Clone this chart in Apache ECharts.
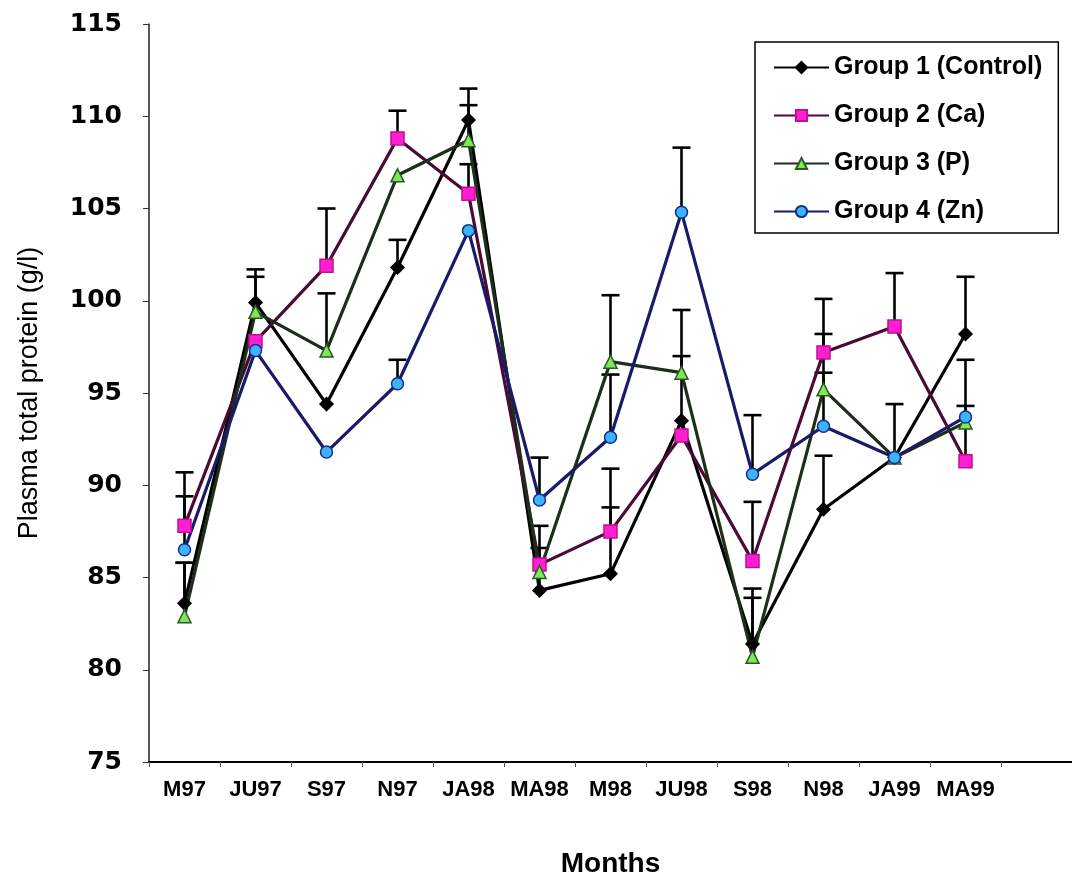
<!DOCTYPE html>
<html>
<head>
<meta charset="utf-8">
<script src="https://cdn.jsdelivr.net/npm/echarts@6/dist/echarts.min.js"></script>
<style>
  html, body { margin: 0; padding: 0; background: #ffffff; }
  #chart { width: 1072px; height: 878px; }
</style>
</head>
<body>
<div id="chart"></div>
<script>
// Sampling months (one empty slot is kept at the right end of the axis)
const months = ['M97', 'JU97', 'S97', 'N97', 'JA98', 'MA98', 'M98', 'JU98', 'S98', 'N98', 'JA99', 'MA99'];
const spareSlot = [''];

// Mean plasma total protein (g/l) per group
const group1 = [83.6, 99.9, 94.4, 101.8, 109.8, 84.3, 85.2, 93.5, 81.4, 88.7, 91.5, 98.2];
const group2 = [87.8, 97.8, 101.9, 108.8, 105.8, 85.7, 87.5, 92.7, 85.9, 97.2, 98.6, 91.3];
const group3 = [82.9, 99.4, 97.3, 106.8, 108.7, 85.3, 96.7, 96.1, 80.7, 95.2, 91.5, 93.4];
const group4 = [86.5, 97.3, 91.8, 95.5, 103.8, 89.2, 92.6, 104.8, 90.6, 93.2, 91.5, 93.7];

// Standard errors (upper bars only; null = no bar drawn)
const group1Err = [2.2, 1.8, null, 1.5, 1.7, 2.3, 3.6, 3.5, 3.0, 2.9, 2.9, 3.1];
const group2Err = [2.9, null, 3.1, 1.5, 1.6, 2.1, 3.4, null, 3.2, 2.9, 2.9, 3.0];
const group3Err = [2.9, 1.9, 3.1, null, 1.9, null, 3.6, 3.4, 3.2, 3.0, null, null];
const group4Err = [2.9, null, null, 1.3, null, 2.3, 3.4, 3.5, 3.2, 2.9, null, 3.1];

const seriesNames = ['Group 1 (Control)', 'Group 2 (Ca)', 'Group 3 (P)', 'Group 4 (Zn)'];

const yMin = 75, yMax = 115, yStep = 5;

const chart = echarts.init(document.getElementById('chart'));

function errData(values, errs) {
  const out = [];
  values.forEach((v, i) => {
    if (errs[i] != null) out.push([i, v, errs[i]]);
  });
  return out;
}

function renderErr(params, api) {
  const i = api.value(0);
  const v = api.value(1);
  const e = api.value(2);
  const p0 = api.coord([i, v]);
  const p1 = api.coord([i, v + e]);
  const half = 9;
  const style = { stroke: '#000', lineWidth: 2.6 };
  return {
    type: 'group',
    children: [
      { type: 'line', shape: { x1: p0[0], y1: p0[1], x2: p1[0], y2: p1[1] }, style: style },
      { type: 'line', shape: { x1: p1[0] - half, y1: p1[1], x2: p1[0] + half, y2: p1[1] }, style: style }
    ]
  };
}

function errSeries(name, values, errs) {
  return {
    name: name,
    type: 'custom',
    renderItem: renderErr,
    encode: { x: 0, y: 1 },
    data: errData(values, errs),
    z: 1,
    silent: true
  };
}

const styles = [
  { line: '#000000', symbol: 'diamond', size: 13, fill: '#000000', border: '#000000' },
  { line: '#4a0a33', symbol: 'rect', size: 13, fill: '#ff1ed2', border: '#c0108f' },
  { line: '#1d2e1a', symbol: 'triangle', size: 13, fill: '#7fe85a', border: '#2b5a20' },
  { line: '#1a1a6a', symbol: 'circle', size: 12, fill: '#3fb2ff', border: '#10308a' }
];
const values = [group1, group2, group3, group4];
const errs = [group1Err, group2Err, group3Err, group4Err];

const lineSeries = values.map((vals, k) => ({
  name: seriesNames[k],
  type: 'line',
  data: vals,
  symbol: styles[k].symbol,
  symbolSize: styles[k].size,
  showAllSymbol: true,
  lineStyle: { color: styles[k].line, width: 3.2 },
  itemStyle: { color: styles[k].fill, borderColor: styles[k].border, borderWidth: 1.5 },
  z: 3,
  animation: false
}));

const errorSeries = values.map((vals, k) => errSeries('err' + (k + 1), vals, errs[k]));

chart.setOption({
  animation: false,
  backgroundColor: '#ffffff',
  grid: { left: 149, right: 0, top: 24, bottom: 116, containLabel: false, outerBoundsMode: 'none' },
  legend: {
    data: seriesNames,
    orient: 'vertical',
    left: 755,
    top: 42,
    padding: [13, 16, 9, 18],
    itemGap: 23,
    itemWidth: 55,
    itemHeight: 14,
    itemTextGap: 7,
    borderColor: '#000',
    borderWidth: 1.5,
    backgroundColor: '#fff',
    inactiveColor: '#999',
    textStyle: {
      fontFamily: 'Liberation Sans, Arial, sans-serif',
      fontWeight: 'bold',
      fontSize: 25,
      lineHeight: 24,
      color: '#000'
    }
  },
  xAxis: {
    type: 'category',
    data: months.concat(spareSlot),
    boundaryGap: true,
    name: 'Months',
    nameLocation: 'middle',
    nameGap: 88,
    nameTextStyle: {
      fontFamily: 'Liberation Sans, Arial, sans-serif',
      fontWeight: 'bold',
      fontSize: 28,
      color: '#000'
    },
    axisLine: { lineStyle: { color: '#000', width: 2 } },
    axisTick: { show: true, length: 5, lineStyle: { color: '#555', width: 1 } },
    axisLabel: {
      margin: 17,
      interval: 0,
      fontFamily: 'Liberation Sans, Arial, sans-serif',
      fontWeight: 'bold',
      fontSize: 22,
      color: '#000'
    },
    splitLine: { show: false }
  },
  yAxis: {
    type: 'value',
    min: yMin,
    max: yMax,
    interval: yStep,
    name: 'Plasma total protein (g/l)',
    nameLocation: 'middle',
    nameGap: 106,
    nameTextStyle: {
      fontFamily: 'Liberation Sans, Arial, sans-serif',
      fontSize: 27,
      color: '#000'
    },
    axisLine: { show: true, lineStyle: { color: '#222', width: 1.5 } },
    axisTick: { show: true, length: 6, lineStyle: { color: '#333', width: 1 } },
    axisLabel: {
      margin: 27,
      fontFamily: 'DejaVu Sans, sans-serif',
      fontWeight: 'bold',
      fontSize: 25,
      color: '#000'
    },
    splitLine: { show: false }
  },
  series: errorSeries.concat(lineSeries)
});
</script>
</body>
</html>
